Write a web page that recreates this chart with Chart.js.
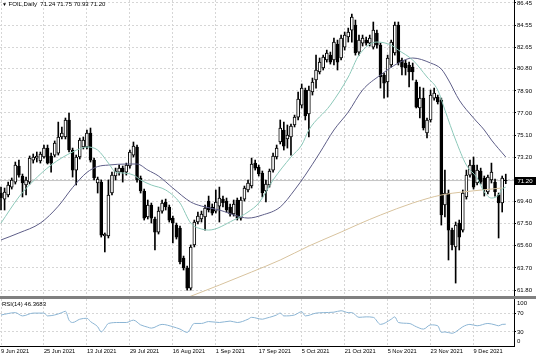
<!DOCTYPE html>
<html><head><meta charset="utf-8">
<script src="https://cdn.jsdelivr.net/npm/chart.js@4.4.1/dist/chart.umd.min.js"></script>
<style>
body{margin:0;background:#fff;}
#wrap{position:relative;width:536px;height:357px;overflow:hidden;font-family:'Liberation Sans',Arial,sans-serif;background:#fff;}
canvas{position:absolute;left:0;}
.lbl{position:absolute;font-size:6px;color:#000;white-space:pre;line-height:7px;}
</style></head><body>
<div id="wrap">
<canvas id="main" width="536" height="296" style="top:0"></canvas>
<canvas id="rsi" width="536" height="61" style="top:296px"></canvas>
<div id="sep" style="position:absolute;left:0;top:296px;width:536px;height:3px;background:#808080"></div>
<div class="lbl" id="title" style="left:2px;top:1px"><span style="font-size:5px">▼</span> FOIL,Daily  71.24 71.75 70.93 71.20</div>
<div class="lbl" id="rsiTitle" style="left:2px;top:301px">RSI(14) 46.3683</div>
<div class="lbl" id="r100" style="left:517px">100</div>
<div class="lbl" id="r0" style="left:517px">0</div>
<div id="pbox" style="position:absolute;left:514px;width:22px;height:8px;background:#000;color:#fff;font-size:6px;line-height:8px;text-align:center;">71.20</div>
</div>
<script>
const open = [70.13,69.61,69.96,70.64,71.07,72.45,71.59,70.82,71.07,72.96,
73.13,72.88,73.22,73.99,73.31,73.39,73.56,74.94,74.94,76.40,
73.82,72.10,73.22,74.08,74.08,75.28,72.96,70.99,71.07,66.44,
66.44,70.13,71.59,71.93,72.27,71.93,72.45,73.39,74.08,71.42,
70.30,68.07,69.10,67.90,66.78,68.58,69.36,68.93,67.98,67.38,
67.12,64.55,63.69,61.97,65.67,67.64,67.90,68.07,69.44,68.93,
68.58,69.01,69.61,69.44,68.93,68.33,69.53,67.98,69.61,70.39,
70.73,72.70,72.36,71.85,70.30,70.82,72.10,73.22,74.51,75.54,
74.77,74.94,75.97,76.65,77.68,78.97,76.91,78.80,79.83,80.52,
80.86,81.55,81.97,81.55,82.92,81.72,82.66,83.52,84.12,84.55,
82.23,83.00,83.26,83.00,82.66,83.86,82.83,80.26,79.66,81.12,
82.15,84.55,81.55,81.29,81.12,80.94,79.66,77.43,78.28,75.28,
76.40,78.28,78.37,78.11,69.10,70.13,66.95,65.50,67.55,66.95,
69.79,71.67,72.53,70.99,72.02,71.42,70.22,71.25,71.07,69.96,
69.27,71.24];
const high = [70.64,70.56,71.07,71.42,72.79,72.96,71.76,71.50,73.31,73.48,
73.65,73.65,74.25,74.25,73.56,74.60,76.22,75.79,76.57,77.00,
73.99,73.39,74.85,74.94,75.54,75.71,73.13,71.50,71.25,66.70,
71.25,71.93,72.27,72.53,72.45,72.70,73.82,74.51,74.25,71.59,
70.47,69.53,69.27,68.07,68.93,69.53,69.61,69.10,68.15,67.55,
67.29,64.72,63.86,65.67,67.81,68.50,68.58,69.10,69.87,69.19,
70.39,70.64,69.87,69.70,69.19,69.53,69.70,69.79,70.73,71.25,
73.13,72.96,72.53,72.02,71.25,72.19,73.56,74.25,76.40,76.22,
75.97,76.05,76.82,78.80,79.49,79.14,79.31,80.00,81.97,81.72,
81.97,82.40,82.23,83.43,83.26,83.69,83.95,84.29,85.49,84.98,
83.69,83.69,83.52,83.69,84.81,84.12,83.00,80.43,81.97,83.26,
84.81,84.81,81.72,81.55,81.37,81.29,79.83,79.23,79.14,76.57,
78.97,79.14,78.54,78.28,72.10,70.39,67.12,67.64,67.81,70.39,
72.10,72.96,73.22,72.53,72.27,71.59,71.67,72.70,71.33,70.13,
71.59,71.75];
const low = [68.67,68.67,69.79,70.47,70.90,71.50,69.79,69.96,70.90,72.70,
72.79,72.70,73.13,72.62,71.93,73.22,73.39,74.77,74.77,73.65,
71.50,70.82,73.05,73.91,73.91,72.79,71.25,70.13,66.35,65.07,
66.27,69.96,71.25,71.67,71.07,71.67,72.27,73.22,71.07,70.13,
67.81,67.90,67.55,65.24,66.61,68.41,68.67,67.64,65.84,66.18,
64.04,63.52,61.80,61.80,65.50,67.47,67.64,66.95,68.50,68.24,
68.41,67.64,68.93,68.50,68.15,68.15,67.81,67.81,69.44,70.22,
70.56,72.10,71.59,69.79,69.36,70.64,71.93,73.05,74.34,73.82,
73.99,73.39,75.80,76.40,77.43,76.40,74.94,78.54,79.14,80.35,
80.69,81.37,81.20,81.12,80.69,81.55,82.40,83.09,83.09,81.97,
81.97,82.75,82.83,82.75,82.49,82.57,79.14,78.28,78.37,80.94,
81.97,81.12,80.26,80.26,79.23,79.83,77.43,76.57,75.54,74.85,
76.22,78.11,77.77,67.38,68.07,64.38,65.24,62.40,65.24,66.78,
69.61,71.50,70.47,70.82,70.90,69.87,70.05,70.99,69.87,66.27,
68.50,70.93];
const close = [69.70,70.22,70.82,71.25,72.53,71.67,70.99,71.25,73.13,73.22,
73.31,73.48,73.99,72.70,72.70,74.42,74.94,75.28,76.40,73.82,
72.10,73.22,74.68,74.68,75.28,72.96,71.42,71.33,66.52,66.61,
69.96,71.67,72.02,72.27,71.93,72.53,73.65,74.16,71.25,70.30,
67.98,69.10,67.98,66.78,68.58,69.27,68.93,67.81,67.55,66.35,
64.21,63.69,61.97,65.50,67.64,68.15,68.33,68.84,68.67,68.41,
69.36,69.70,69.27,68.67,68.33,69.19,67.98,69.53,70.56,70.99,
72.62,72.27,71.76,70.13,70.90,72.02,73.31,73.99,75.71,74.16,
75.11,75.88,76.65,78.20,79.14,76.74,78.97,79.66,80.69,81.37,
81.80,82.15,81.37,83.09,81.37,83.43,83.69,83.95,85.24,82.15,
83.26,83.43,83.00,83.43,84.12,82.83,80.09,79.57,81.72,83.09,
84.55,81.29,80.94,80.86,80.52,80.52,77.51,78.28,75.71,76.40,
78.54,78.71,77.94,68.24,70.13,66.95,65.67,67.38,66.35,70.13,
71.67,72.53,70.64,72.10,71.07,70.39,71.50,71.93,70.22,69.27,
71.42,71.20];

const maFastBars = [0,5,9,14,20,24,27,30,32,34,37,39,42,46,50,53,56,58,65,69,72,76,81,84,86,92,97,100,105,109,111,115,119,122,124,127,130,133,135,137,139,140,141];
const maFast = [67.55,69.79,71.16,72.53,73.65,74.08,73.82,72.70,71.93,71.85,71.67,71.25,70.82,70.39,69.27,67.55,67.04,66.95,67.81,68.50,69.27,71.25,73.22,74.25,75.54,77.68,80.09,81.97,83.09,82.83,82.40,81.55,80.09,78.97,77.25,74.68,72.53,71.42,70.22,69.70,69.96,70.47,70.64];
const maSlowBars = [0,5,11,16,20,24,27,30,35,38,41,44,48,53,56,61,67,69,73,78,82,85,89,93,97,101,106,111,115,120,123,125,128,132,135,137,141];
const maSlow = [66.10,66.70,67.55,69.00,70.60,71.90,72.40,72.53,72.62,72.62,72.10,71.59,70.56,69.36,69.01,68.67,68.07,67.98,68.24,68.93,70.39,71.67,73.56,75.54,77.08,78.97,80.26,81.29,81.72,81.29,80.77,79.83,78.11,76.57,75.54,74.68,73.22];
const maLongBars = [52,61,70,78,86,95,100,106,115,123,129,140];
const maLong = [61.15,62.23,63.35,64.38,65.58,66.78,67.47,68.24,69.27,69.96,70.22,70.56];

const rsiBars = [0,4,6,9,12,13,15,17,18,19,20,22,24,25,27,28,29,30,33,35,37,39,41,42,45,48,50,52,54,56,58,61,64,66,69,70,73,74,75,77,78,79,82,84,85,88,90,93,95,97,98,100,102,104,106,109,110,111,114,116,118,120,122,123,124,126,127,129,131,133,136,138,139,140,141];
const rsiVals = [66,71,64,70,70,64,66,71,74,55,50,57,59,52,41,30,38,48,50,50,55,45,40,38,46,41,36,29,48,48,52,50,53,50,57,61,57,59,61,66,70,64,66,73,64,70,71,72,75,71,71,61,62,61,46,57,62,50,48,41,36,45,43,29,30,27,30,41,46,43,48,45,43,46,46.37];

const xTickIdx = [0,12,24,36,48,60,72,84,96,108,120,132];
const xTickLabels = ['9 Jun 2021','25 Jun 2021','13 Jul 2021','29 Jul 2021','16 Aug 2021','1 Sep 2021','17 Sep 2021','5 Oct 2021','21 Oct 2021','5 Nov 2021','23 Nov 2021','9 Dec 2021'];
const priceTicks = [86.45,84.55,82.65,80.80,78.90,77.00,75.10,73.20,71.30,69.40,67.50,65.60,63.70,61.80];
const priceTickLabels = ['86.45','84.55','82.65','80.80','78.90','77.00','75.10','73.20','','69.40','67.50','65.60','63.70','61.80'];
const rsiTicks = [70,30];
const rsiTickLabels = ['70','30'];

const lastClose = close[close.length-1];
const xMin = -0.28, xMax = 143.3;
const gridColor = '#d6d6d6';

Chart.defaults.font.family = "'Liberation Sans', Arial, sans-serif";
Chart.defaults.color = '#000';

const idx = open.map((_, i) => i);
const pts = (bars, vals) => bars.map((b, k) => ({x: b, y: vals[k]}));
const lineDs = (data, color, order) => ({type:'line', data, borderColor:color, borderWidth:1, pointRadius:0, fill:false, cubicInterpolationMode:'monotone', order});
const zeroPad = s => { s.paddingLeft = 0; s.paddingRight = 0; s.paddingTop = 0; s.paddingBottom = 0; };

const mainChart = new Chart(document.getElementById('main'), {
  type: 'bar',
  data: { datasets: [
    {type:'bar', data: idx.map(i => ({x:i, y:[low[i], high[i]]})), backgroundColor:'#000', borderWidth:0, barThickness:1, grouped:false, order:5},
    {type:'bar', data: idx.map(i => ({x:i, y:[open[i], close[i]]})), backgroundColor: idx.map(i => close[i] >= open[i] ? '#ffffff' : '#000000'), borderColor:'#000', borderWidth:1, borderSkipped:false, barThickness:3, grouped:false, order:4},
    lineDs([{x:xMin, y:lastClose},{x:xMax, y:lastClose}], '#c4c4c4', 6),
    lineDs(pts(maLongBars, maLong), '#d8c39e', 3),
    lineDs(pts(maSlowBars, maSlow), '#5e5e88', 2),
    lineDs(pts(maFastBars, maFast), '#8cc8b9', 1)
  ]},
  options: {
    responsive:false, animation:false, events:[],
    layout:{padding:0},
    plugins:{legend:{display:false}, tooltip:{enabled:false}, title:{display:false}},
    scales:{
      x:{type:'linear', min:xMin, max:xMax, offset:false,
         afterBuildTicks: s => { s.ticks = xTickIdx.map(v => ({value:v})); },
         ticks:{display:false}, grid:{color:gridColor, drawTicks:false, offset:false},
         border:{display:false, dash:[2,2]},
         afterFit: s => { s.height = 0; zeroPad(s); }},
      y:{position:'right', min:61.29, max:86.70,
         afterBuildTicks: s => { s.ticks = priceTicks.map(v => ({value:v})); },
         ticks:{callback:(v,i) => priceTickLabels[i], font:{size:6}, color:'#000', padding:1},
         grid:{color:gridColor, tickLength:2, tickColor:'#000'},
         border:{display:true, color:'#000', dash:[2,2]},
         afterFit: s => { s.width = 22; zeroPad(s); }}
    }
  }
});

const rsiChart = new Chart(document.getElementById('rsi'), {
  type: 'line',
  data: { datasets: [ lineDs(pts(rsiBars, rsiVals), '#8cb5d4', 1) ] },
  options: {
    responsive:false, animation:false, events:[],
    layout:{padding:{top:3, left:0, right:0, bottom:0}},
    plugins:{legend:{display:false}, tooltip:{enabled:false}},
    scales:{
      x:{type:'linear', min:xMin, max:xMax, offset:false,
         afterBuildTicks: s => { s.ticks = xTickIdx.map(v => ({value:v})); },
         ticks:{autoSkip:false, maxRotation:0, minRotation:0, align:'start', padding:2, font:{size:5.7}, color:'#000', callback:(v,i) => xTickLabels[i]},
         grid:{color:gridColor, drawTicks:false},
         border:{display:true, color:'#000', dash:[2,2]},
         afterFit: s => { s.height = 11; zeroPad(s); }},
      y:{position:'right', min:0, max:100,
         afterBuildTicks: s => { s.ticks = rsiTicks.map(v => ({value:v})); },
         ticks:{callback:(v,i) => rsiTickLabels[i], font:{size:6}, color:'#000', padding:1},
         grid:{color:gridColor, tickLength:2, tickColor:'#000'},
         border:{display:true, color:'#000', dash:[2,2]},
         afterFit: s => { s.width = 22; zeroPad(s); }}
    }
  }
});

const py = mainChart.scales.y.getPixelForValue(lastClose);
document.getElementById('pbox').style.top = (py - 4) + 'px';
const ry = rsiChart.scales.y;
document.getElementById('r100').style.top = (296 + ry.getPixelForValue(100) + 1) + 'px';
document.getElementById('r0').style.top = (296 + ry.getPixelForValue(0) - 8) + 'px';
</script>
</body></html>
